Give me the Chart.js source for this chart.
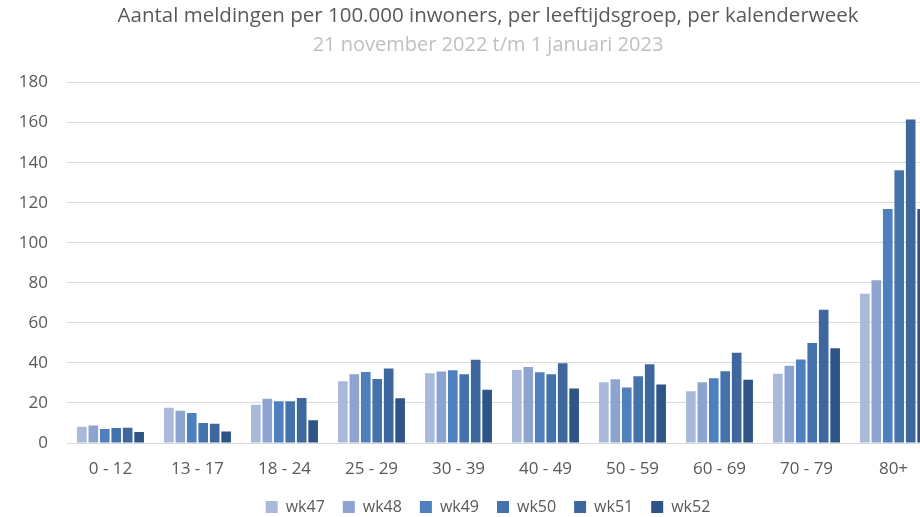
<!DOCTYPE html>
<html>
<head>
<meta charset="utf-8">
<script src="https://cdn.jsdelivr.net/npm/chart.js@4"></script>
<style>
  html, body { margin: 0; padding: 0; background: #fff; overflow: hidden; }
  #wrap { width: 976px; height: 517px; }
</style>
</head>
<body>
<div id="wrap"><canvas id="chart" width="976" height="517"></canvas></div>
<script>
// age groups and weekly rates (per 100.000 inhabitants)
const ageGroups = ['0 - 12', '13 - 17', '18 - 24', '25 - 29', '30 - 39', '40 - 49', '50 - 59', '60 - 69', '70 - 79', '80+'];
const weeks = ['wk47', 'wk48', 'wk49', 'wk50', 'wk51', 'wk52'];
const wk47 = [8.1, 17.6, 19.1, 30.8, 34.8, 36.5, 30.3, 25.8, 34.6, 74.6];
const wk48 = [8.8, 16.1, 22.1, 34.3, 35.7, 38.0, 31.8, 30.3, 38.6, 81.3];
const wk49 = [7.0, 15.0, 20.8, 35.5, 36.3, 35.3, 27.7, 32.3, 41.7, 116.9];
const wk50 = [7.5, 10.0, 20.8, 32.0, 34.3, 34.3, 33.3, 35.8, 49.9, 136.2];
const wk51 = [7.6, 9.6, 22.5, 37.2, 41.6, 39.8, 39.3, 45.1, 66.6, 161.6];
const wk52 = [5.5, 5.8, 11.3, 22.4, 26.6, 27.2, 29.2, 31.6, 47.3, 116.9];
const yTicks = [0, 20, 40, 60, 80, 100, 120, 140, 160, 180];

const colors = ['#a9b9da', '#8ca4cf', '#4e80bf', '#4472aa', '#3d679d', '#2f5486'];
const series = [wk47, wk48, wk49, wk50, wk51, wk52];

const ctx = document.getElementById('chart').getContext('2d');
new Chart(ctx, {
  type: 'bar',
  data: {
    labels: ageGroups,
    datasets: series.map((d, i) => ({
      label: weeks[i],
      data: d,
      backgroundColor: colors[i],
      borderWidth: 0,
      categoryPercentage: 0.79,
      barPercentage: 0.84
    }))
  },
  options: {
    responsive: false,
    animation: false,
    layout: { padding: { left: 0, right: 0, top: 2, bottom: -8 } },
    plugins: {
      title: {
        display: true,
        text: 'Aantal meldingen per 100.000 inwoners, per leeftijdsgroep, per kalenderweek',
        color: '#595959',
        font: { family: 'Open Sans', size: 20.5, weight: 'normal' },
        padding: { top: 2, bottom: 3 }
      },
      subtitle: {
        display: true,
        text: '21 november 2022 t/m 1 januari 2023',
        color: '#bfbfbf',
        font: { family: 'Open Sans', size: 20, weight: 'normal' },
        padding: { top: 2, bottom: 25 }
      },
      legend: {
        position: 'bottom',
        labels: {
          boxWidth: 12,
          boxHeight: 12,
          padding: 18,
          color: '#595959',
          font: { family: 'Open Sans', size: 16 }
        }
      },
      tooltip: { enabled: false }
    },
    scales: {
      x: {
        afterFit: axis => { axis.height = 38; },
        grid: { display: false, drawTicks: false },
        border: { display: true, color: '#d9d9d9', width: 1 },
        ticks: {
          color: '#595959',
          padding: 16,
          font: { family: 'Open Sans', size: 17 },
          maxRotation: 0
        }
      },
      y: {
        min: 0,
        max: 180,
        afterBuildTicks: axis => { axis.ticks = yTicks.map(v => ({ value: v })); },
        afterFit: axis => { axis.width = 67; },
        grid: { color: '#d9d9d9', lineWidth: 1, drawTicks: false },
        border: { display: false },
        ticks: {
          color: '#595959',
          padding: 19,
          font: { family: 'Open Sans', size: 17 }
        }
      },
      // empty right-hand strip, keeps the plot edge where the original has it
      yRight: {
        position: 'right',
        min: 0,
        max: 180,
        afterFit: axis => { axis.width = 39; },
        grid: { display: false, drawTicks: false },
        border: { display: false },
        ticks: { display: false }
      }
    }
  }
});
</script>
</body>
</html>
